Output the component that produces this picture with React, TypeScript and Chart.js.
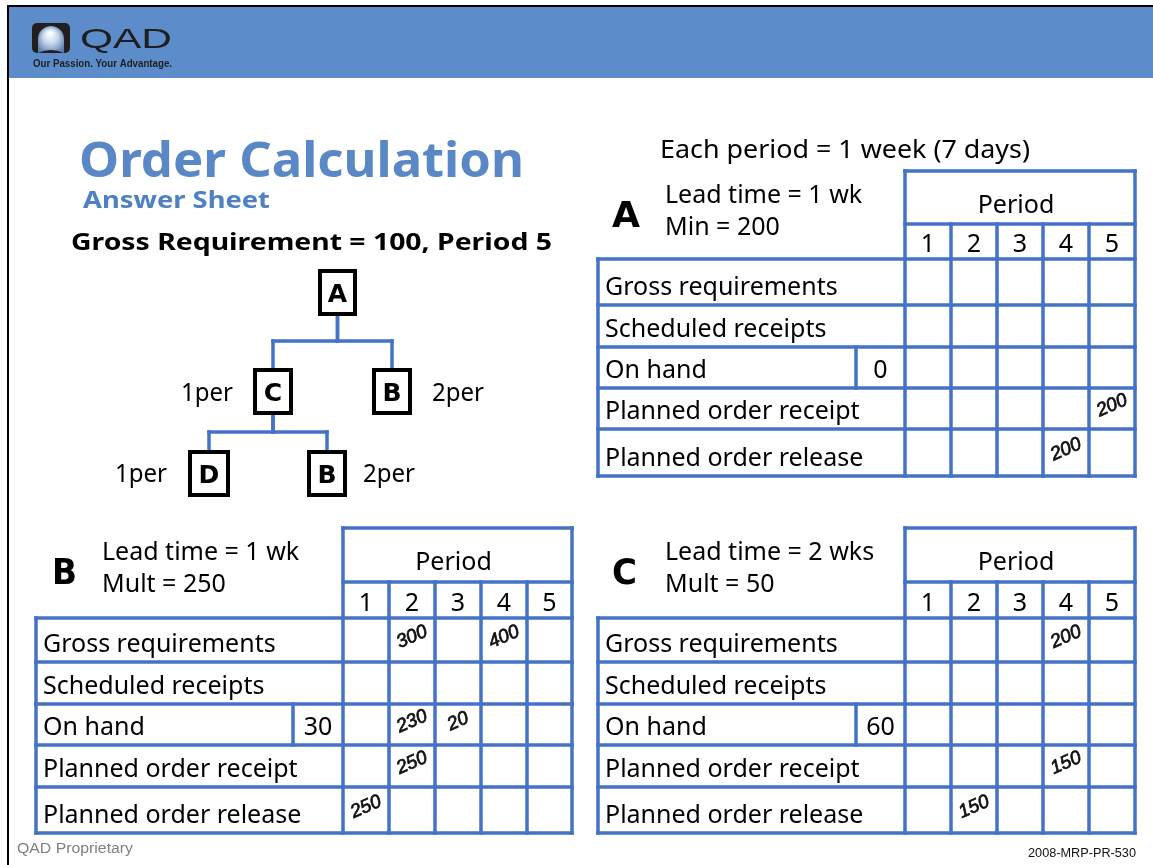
import React, { useEffect, useRef } from 'react';
import { Chart, registerables } from 'chart.js';

Chart.register(...registerables);

// ---------- data ----------
const PERIODS = ['1', '2', '3', '4', '5'];
const ROW_LABELS = ['Gross requirements', 'Scheduled receipts', 'On hand', 'Planned order receipt', 'Planned order release'];

const A_INFO = ['Lead time = 1 wk', 'Min = 200'];
const B_INFO = ['Lead time = 1 wk', 'Mult = 250'];
const C_INFO = ['Lead time = 2 wks', 'Mult = 50'];

const A_ON_HAND = 0;
const B_ON_HAND = 30;
const C_ON_HAND = 60;

type V = number | null;
const A_GROSS: V[] = [null, null, null, null, null];
const A_SCHED: V[] = [null, null, null, null, null];
const A_OH: V[] = [null, null, null, null, null];
const A_RECEIPT: V[] = [null, null, null, null, 200];
const A_RELEASE: V[] = [null, null, null, 200, null];

const B_GROSS: V[] = [null, 300, null, 400, null];
const B_SCHED: V[] = [null, null, null, null, null];
const B_OH: V[] = [null, 230, 20, null, null];
const B_RECEIPT: V[] = [null, 250, null, null, null];
const B_RELEASE: V[] = [250, null, null, null, null];

const C_GROSS: V[] = [null, null, null, 200, null];
const C_SCHED: V[] = [null, null, null, null, null];
const C_OH: V[] = [null, null, null, null, null];
const C_RECEIPT: V[] = [null, null, null, 150, null];
const C_RELEASE: V[] = [null, 150, null, null, null];

const TREE_LABELS = ['A', 'C', 'B', 'D', 'B'];
const TREE_QTY = ['', '1per', '2per', '1per', '2per'];
const TREE_PARENT = [-1, 0, 0, 1, 1];

// ---------- layout ----------
const PAGE_W = 1153;
const PAGE_H = 865;
const SANS = '"Noto Sans", "DejaVu Sans", sans-serif';
const ARIAL = '"Liberation Sans", Arial, sans-serif';
const HEADER_BLUE = '#5c8dca';
const GRID = '#4472c4';
const GRID_W = 3.5;

type TableLayout = {
  left: number; sub: number; cols: number[]; top: number; hdr: number; rows: number[];
  letterX: number; infoX: number;
};
const COLS_RIGHT = [905, 951, 997, 1043, 1089, 1135];
const ROWS_BOTTOM = [618, 662, 704, 745, 787, 833];
const TABLE_A: TableLayout = { left: 598, sub: 856, cols: COLS_RIGHT, top: 171, hdr: 224, rows: [259, 305, 347, 388, 429, 476], letterX: 612, infoX: 665 };
const TABLE_B: TableLayout = { left: 36, sub: 293, cols: [343, 389, 435, 481, 527, 572], top: 528, hdr: 582, rows: ROWS_BOTTOM, letterX: 52, infoX: 102 };
const TABLE_C: TableLayout = { left: 598, sub: 856, cols: COLS_RIGHT, top: 528, hdr: 582, rows: ROWS_BOTTOM, letterX: 612, infoX: 665 };

// tree box layout (outer edges)
const TREE_BOX = [
  [318, 269, 357, 316],
  [253, 368, 293, 415],
  [372, 368, 412, 415],
  [188, 450, 230, 497],
  [307, 450, 347, 497],
];
const TREE_QTY_POS = [[0, 0], [181, 401], [432, 401], [115, 482], [363, 482]];
const TREE_BUS_Y = [341, 432];

function cellPoints(t: TableLayout, values: V[][]) {
  const pts: { x: number; y: number; v: number }[] = [];
  values.forEach((row, r) =>
    row.forEach((v, p) => {
      if (v != null) pts.push({ x: (t.cols[p] + t.cols[p + 1]) / 2, y: (t.rows[r] + t.rows[r + 1]) / 2 - 3, v });
    })
  );
  return pts;
}

const slidePlugin = {
  id: 'slide',
  beforeDatasetsDraw(chart: any) {
    const ctx: CanvasRenderingContext2D = chart.ctx;
    const sx = chart.scales.x, sy = chart.scales.y;
    const X = (v: number) => sx.getPixelForValue(v);
    const Y = (v: number) => sy.getPixelForValue(v);
    const rect = (x0: number, y0: number, x1: number, y1: number, c: string) => {
      ctx.fillStyle = c;
      ctx.fillRect(X(x0), Y(y0), X(x1) - X(x0), Y(y1) - Y(y0));
    };
    const line = (x0: number, y0: number, x1: number, y1: number, c: string, w: number) => {
      ctx.strokeStyle = c; ctx.lineWidth = w; ctx.lineCap = 'square';
      ctx.beginPath(); ctx.moveTo(X(x0), Y(y0)); ctx.lineTo(X(x1), Y(y1)); ctx.stroke();
    };
    const text = (s: string, x: number, y: number, o: { size: number; weight?: string; color?: string; align?: CanvasTextAlign; family?: string; width?: number }) => {
      ctx.save();
      ctx.font = `${o.weight || 'normal'} ${o.size}px ${o.family || SANS}`;
      ctx.fillStyle = o.color || '#000';
      ctx.textAlign = o.align || 'left';
      ctx.textBaseline = 'alphabetic';
      const w = ctx.measureText(s).width;
      ctx.translate(X(x), Y(y));
      if (o.width) ctx.scale(o.width / w, 1);
      ctx.fillText(s, 0, 0);
      ctx.restore();
    };

    ctx.save();
    rect(0, 0, PAGE_W, PAGE_H, '#ffffff');
    // header
    rect(9, 7, PAGE_W, 78, HEADER_BLUE);
    rect(7, 5, PAGE_W, 7, '#000');
    rect(7, 5, 9, PAGE_H, '#000');

    // logo
    ctx.fillStyle = '#231f20';
    ctx.beginPath();
    (ctx as any).roundRect(X(32), Y(23), X(70) - X(32), Y(53) - Y(23), 5);
    ctx.fill();
    const g = ctx.createRadialGradient(X(50), Y(33), 1, X(51), Y(40), 15);
    g.addColorStop(0, '#ffffff');
    g.addColorStop(0.45, '#c9d8ec');
    g.addColorStop(1, '#5a7fae');
    ctx.fillStyle = g;
    ctx.beginPath();
    ctx.moveTo(X(38), Y(53));
    ctx.lineTo(X(38), Y(39));
    ctx.arc(X(51), Y(39), X(64) - X(51), Math.PI, 0);
    ctx.lineTo(X(64), Y(53));
    ctx.quadraticCurveTo(X(51), Y(47), X(38), Y(53));
    ctx.fill();
    text('QAD', 80, 48, { size: 28, family: ARIAL, color: '#1f1f1f', width: 92 });
    text('Our Passion. Your Advantage.', 33, 67, { size: 10.5, weight: 'bold', family: ARIAL, color: '#1f1f1f', width: 139 });

    // titles
    text('Order Calculation', 79, 177, { size: 48, weight: 'bold', color: '#5a87c6', width: 445 });
    text('Answer Sheet', 83, 208, { size: 24, weight: 'bold', color: '#4f80c2', width: 187 });
    text('Gross Requirement = 100, Period 5', 71, 250, { size: 24, weight: 'bold', color: '#000', width: 481 });
    text('Each period = 1 week (7 days)', 660, 158, { size: 25, width: 370 });

    // tree
    TREE_PARENT.forEach((p, i) => {
      if (p < 0) return;
      const pb = TREE_BOX[p], cb = TREE_BOX[i];
      const pcx = (pb[0] + pb[2]) / 2, ccx = (cb[0] + cb[2]) / 2;
      const busY = TREE_BUS_Y[p === 0 ? 0 : 1];
      line(pcx, pb[3], pcx, busY, GRID, 3.5);
      line(pcx, busY, ccx, busY, GRID, 3.5);
      line(ccx, busY, ccx, cb[1], GRID, 3.5);
    });
    TREE_LABELS.forEach((lab, i) => {
      const b = TREE_BOX[i];
      ctx.strokeStyle = '#000'; ctx.lineWidth = 4;
      ctx.fillStyle = '#fff';
      ctx.fillRect(X(b[0] + 2), Y(b[1] + 2), X(b[2]) - X(b[0]) - 4, Y(b[3]) - Y(b[1]) - 4);
      ctx.strokeRect(X(b[0] + 2), Y(b[1] + 2), X(b[2]) - X(b[0]) - 4, Y(b[3]) - Y(b[1]) - 4);
      text(lab, (b[0] + b[2]) / 2, (b[1] + b[3]) / 2 + 9, { size: 25, weight: 'bold', align: 'center', family: '"DejaVu Sans", sans-serif' });
      if (TREE_QTY[i]) text(TREE_QTY[i], TREE_QTY_POS[i][0], TREE_QTY_POS[i][1], { size: 25, width: 52 });
    });

    // tables
    const drawTable = (t: TableLayout, letter: string, info: string[], onHand: number) => {
      const c = t.cols, r = t.rows;
      line(c[0], t.top, c[5], t.top, GRID, GRID_W);
      line(c[0], t.hdr, c[5], t.hdr, GRID, GRID_W);
      r.forEach((y) => line(t.left, y, c[5], y, GRID, GRID_W));
      line(t.left, r[0], t.left, r[5], GRID, GRID_W);
      c.forEach((x, i) => line(x, i === 0 || i === 5 ? t.top : t.hdr, x, r[5], GRID, GRID_W));
      line(t.sub, r[2], t.sub, r[3], GRID, GRID_W);

      text('Period', (c[0] + c[5]) / 2 - 4, t.top + 42, { size: 25, align: 'center' });
      PERIODS.forEach((p, i) => text(p, (c[i] + c[i + 1]) / 2, r[0] - 7, { size: 25, align: 'center' }));
      ROW_LABELS.forEach((s, i) => text(s, t.left + 7, r[i + 1] - 10, { size: 25 }));
      text(String(onHand), (t.sub + c[0]) / 2, r[3] - 10, { size: 25, align: 'center' });
      text(letter, t.letterX, t.top + 56, { size: 36, weight: 'bold', family: '"DejaVu Sans", sans-serif', width: letter === 'A' ? 28 : 25 });
      info.forEach((s, i) => text(s, t.infoX, t.top + 32 + i * 32, { size: 25 }));
    };
    drawTable(TABLE_A, 'A', A_INFO, A_ON_HAND);
    drawTable(TABLE_B, 'B', B_INFO, B_ON_HAND);
    drawTable(TABLE_C, 'C', C_INFO, C_ON_HAND);

    // footer
    text('QAD Proprietary', 17, 853, { size: 14, family: ARIAL, color: '#7f7f7f', width: 116 });
    text('2008-MRP-PR-530', 1136, 857, { size: 12.5, family: ARIAL, color: '#111', align: 'right', width: 108 });
    ctx.restore();
  },
  afterDatasetsDraw(chart: any) {
    const ctx: CanvasRenderingContext2D = chart.ctx;
    chart.data.datasets.forEach((ds: any, i: number) => {
      const meta = chart.getDatasetMeta(i);
      meta.data.forEach((el: any, j: number) => {
        ctx.save();
        ctx.translate(el.x, el.y);
        ctx.rotate(-0.42);
        ctx.font = `italic 19px ${ARIAL}`;
        ctx.fillStyle = '#111';
        ctx.strokeStyle = '#111';
        ctx.lineWidth = 0.7;
        ctx.textAlign = 'center';
        ctx.textBaseline = 'middle';
        const s = String(ds.data[j].v);
        ctx.fillText(s, 0, 0);
        ctx.strokeText(s, 0, 0);
        ctx.restore();
      });
    });
  },
};

export default function App() {
  const ref = useRef<HTMLCanvasElement>(null);
  useEffect(() => {
    document.body.style.margin = '0';
    const datasets = [
      { label: 'A', data: cellPoints(TABLE_A, [A_GROSS, A_SCHED, A_OH, A_RECEIPT, A_RELEASE]) },
      { label: 'B', data: cellPoints(TABLE_B, [B_GROSS, B_SCHED, B_OH, B_RECEIPT, B_RELEASE]) },
      { label: 'C', data: cellPoints(TABLE_C, [C_GROSS, C_SCHED, C_OH, C_RECEIPT, C_RELEASE]) },
    ].map((d) => ({ ...d, pointRadius: 0, pointHoverRadius: 0, showLine: false }));
    const chart = new Chart(ref.current as HTMLCanvasElement, {
      type: 'scatter',
      data: { datasets } as any,
      options: {
        animation: false,
        responsive: false,
        maintainAspectRatio: false,
        events: [],
        layout: { padding: 0, autoPadding: false } as any,
        plugins: { legend: { display: false }, tooltip: { enabled: false } },
        scales: {
          x: { type: 'linear', min: 0, max: PAGE_W, display: false },
          y: { type: 'linear', min: 0, max: PAGE_H, reverse: true, display: false },
        },
      },
      plugins: [slidePlugin],
    });
    return () => chart.destroy();
  }, []);
  return (
    <div style={{ width: PAGE_W, height: PAGE_H, position: 'relative', background: '#fff' }}>
      <canvas ref={ref} width={PAGE_W} height={PAGE_H} style={{ display: 'block' }} />
    </div>
  );
}
